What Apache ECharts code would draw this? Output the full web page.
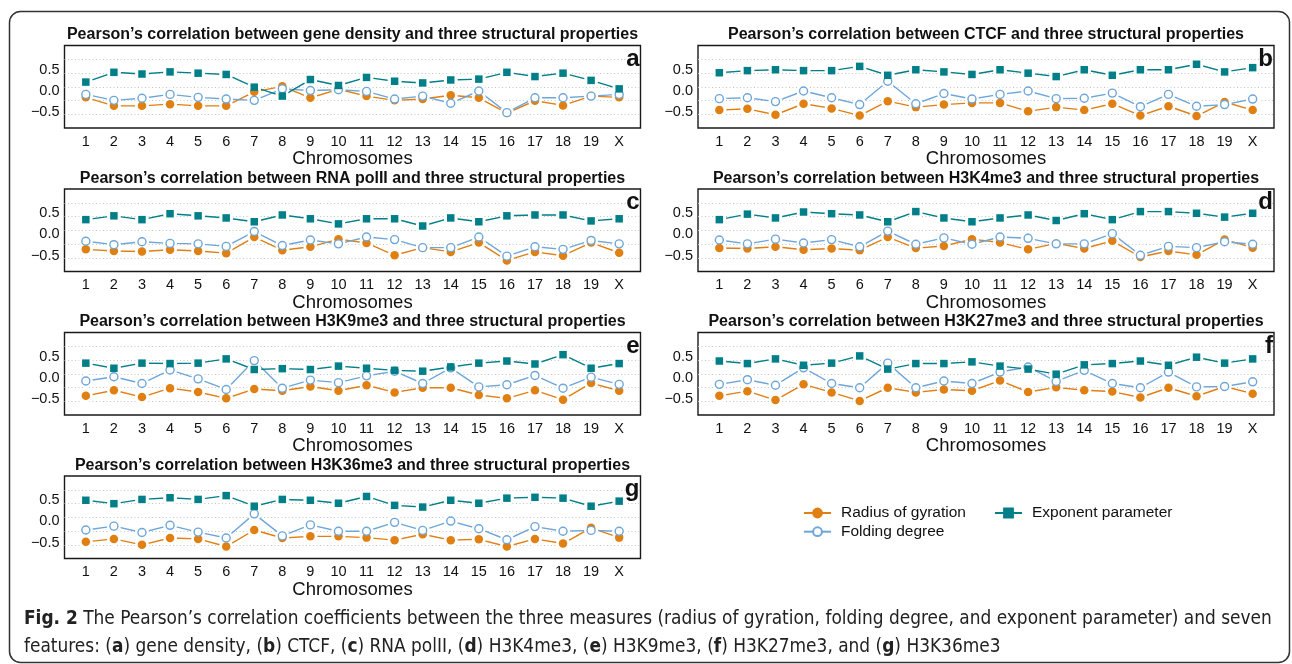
<!DOCTYPE html>
<html><head><meta charset="utf-8">
<script src="https://cdn.jsdelivr.net/npm/echarts@6/dist/echarts.min.js"></script>
<style>html,body{margin:0;padding:0;background:#fff}#c{width:1292px;height:664px}</style>
</head><body><div id="c"></div>
<script>
// ---------- data ----------
const chromosomes = ['1','2','3','4','5','6','7','8','9','10','11','12','13','14','15','16','17','18','19','X'];
const yTickValues = [-0.5, 0, 0.5];
const measureNames = ['Radius of gyration', 'Folding degree', 'Exponent parameter'];
const features = ['gene density', 'CTCF', 'RNA polII', 'H3K4me3', 'H3K9me3', 'H3K27me3', 'H3K36me3'];
const panelLetters = ['a', 'b', 'c', 'd', 'e', 'f', 'g'];

const radius_a   = [-0.15,-0.35,-0.35,-0.31,-0.35,-0.35,-0.02,0.11,-0.16,0.04,-0.12,-0.22,-0.19,-0.10,-0.16,-0.52,-0.23,-0.34,-0.12,-0.15];
const folding_a  = [-0.08,-0.22,-0.17,-0.08,-0.15,-0.19,-0.22,0.05,0.01,0.03,-0.01,-0.19,-0.12,-0.29,0.00,-0.51,-0.16,-0.16,-0.12,-0.08];
const exponent_a = [0.21,0.44,0.40,0.45,0.42,0.39,0.09,-0.12,0.27,0.13,0.32,0.23,0.19,0.26,0.28,0.44,0.34,0.42,0.25,0.05];

const radius_b   = [-0.45,-0.42,-0.56,-0.30,-0.41,-0.58,-0.24,-0.38,-0.32,-0.28,-0.28,-0.48,-0.38,-0.45,-0.30,-0.58,-0.36,-0.59,-0.26,-0.45];
const folding_b  = [-0.18,-0.16,-0.25,0.00,-0.16,-0.32,0.23,-0.30,-0.06,-0.19,-0.08,0.00,-0.18,-0.17,-0.05,-0.37,-0.08,-0.36,-0.32,-0.19];
const exponent_b = [0.43,0.48,0.50,0.48,0.48,0.58,0.37,0.50,0.45,0.39,0.50,0.42,0.34,0.50,0.37,0.50,0.50,0.63,0.45,0.55];

const radius_c   = [-0.35,-0.39,-0.40,-0.36,-0.39,-0.44,-0.06,-0.37,-0.29,-0.11,-0.20,-0.49,-0.31,-0.41,-0.19,-0.61,-0.41,-0.50,-0.19,-0.43];
const folding_c  = [-0.16,-0.24,-0.17,-0.21,-0.22,-0.28,0.07,-0.26,-0.13,-0.22,-0.06,-0.12,-0.31,-0.31,-0.06,-0.51,-0.29,-0.35,-0.14,-0.22];
const exponent_c = [0.35,0.44,0.35,0.49,0.44,0.39,0.30,0.46,0.37,0.25,0.37,0.37,0.20,0.39,0.30,0.44,0.46,0.46,0.32,0.37];

const radius_d   = [-0.32,-0.33,-0.29,-0.36,-0.33,-0.37,-0.06,-0.32,-0.27,-0.11,-0.19,-0.35,-0.21,-0.33,-0.15,-0.53,-0.39,-0.48,-0.12,-0.31];
const folding_d  = [-0.13,-0.22,-0.11,-0.20,-0.12,-0.29,0.08,-0.23,-0.08,-0.23,-0.06,-0.09,-0.22,-0.22,0.02,-0.49,-0.28,-0.31,-0.17,-0.23];
const exponent_d = [0.35,0.48,0.39,0.53,0.49,0.46,0.30,0.54,0.39,0.30,0.39,0.46,0.33,0.49,0.35,0.54,0.54,0.50,0.41,0.50];

const radius_e   = [-0.42,-0.29,-0.45,-0.24,-0.33,-0.48,-0.26,-0.30,-0.20,-0.30,-0.17,-0.34,-0.23,-0.23,-0.40,-0.48,-0.29,-0.51,-0.12,-0.30];
const folding_e  = [-0.07,0.03,-0.13,0.19,-0.02,-0.27,0.41,-0.24,-0.05,-0.11,0.05,0.16,-0.13,0.24,-0.21,-0.16,0.06,-0.24,0.02,-0.15];
const exponent_e = [0.35,0.23,0.35,0.34,0.35,0.45,0.20,0.22,0.20,0.28,0.23,0.18,0.16,0.26,0.35,0.40,0.33,0.55,0.23,0.34];

const radius_f   = [-0.42,-0.31,-0.52,-0.15,-0.34,-0.54,-0.23,-0.34,-0.27,-0.30,-0.06,-0.33,-0.22,-0.29,-0.32,-0.46,-0.23,-0.43,-0.20,-0.37];
const folding_f  = [-0.15,-0.04,-0.17,0.24,-0.13,-0.23,0.35,-0.23,-0.07,-0.13,0.14,0.26,-0.08,0.18,-0.13,-0.23,0.14,-0.21,-0.20,-0.09];
const exponent_f = [0.40,0.34,0.45,0.30,0.35,0.52,0.21,0.34,0.34,0.38,0.28,0.21,0.09,0.31,0.34,0.40,0.30,0.49,0.35,0.45];

const radius_g   = [-0.48,-0.41,-0.55,-0.39,-0.41,-0.59,-0.20,-0.39,-0.35,-0.35,-0.38,-0.44,-0.30,-0.44,-0.42,-0.59,-0.41,-0.52,-0.15,-0.38];
const folding_g  = [-0.20,-0.11,-0.26,-0.09,-0.25,-0.39,0.18,-0.34,-0.08,-0.23,-0.23,-0.02,-0.21,0.01,-0.17,-0.43,-0.12,-0.23,-0.21,-0.23];
const exponent_g = [0.50,0.42,0.52,0.56,0.52,0.61,0.36,0.52,0.50,0.43,0.59,0.38,0.34,0.50,0.43,0.55,0.57,0.55,0.36,0.48];

const panelData = [
  [radius_a, folding_a, exponent_a],
  [radius_b, folding_b, exponent_b],
  [radius_c, folding_c, exponent_c],
  [radius_d, folding_d, exponent_d],
  [radius_e, folding_e, exponent_e],
  [radius_f, folding_f, exponent_f],
  [radius_g, folding_g, exponent_g]
];

// ---------- styling / layout ----------
const FONT = "'Liberation Sans', Arial, Helvetica, sans-serif";
const CAPFONT = "'DejaVu Sans Condensed', 'Liberation Sans', sans-serif";
const COLORS = ['#E07F12', '#6FA6D8', '#007F88'];
const COL_X = [64.5, 698];
const ROW_Y = [45.5, 189, 332.5, 476];
const PW = 576, PH = 82.5;
const Y_MIN = -0.872, Y_MAX = 1.072, X_MIN = 0.24, X_MAX = 20.76;

const panels = panelLetters.map((l, i) => ({ left: COL_X[i % 2], top: ROW_Y[Math.floor(i / 2)] }));

const fmtY = v => v === 0 ? '0.0' : (v < 0 ? '\u22120.5' : '0.5');

const grid = panels.map(p => ({
  left: p.left, top: p.top, width: PW, height: PH,
  show: true, borderColor: '#1a1a1a', borderWidth: 1.4, backgroundColor: 'rgba(0,0,0,0)'
}));

const xAxis = panels.map((p, i) => ({
  type: 'value', gridIndex: i, min: X_MIN, max: X_MAX,
  name: 'Chromosomes', nameLocation: 'middle', nameGap: 19,
  nameTextStyle: { fontSize: 18.5, color: '#111', fontFamily: FONT },
  axisLine: { show: false }, axisTick: { show: false }, splitLine: { show: false },
  axisLabel: {
    customValues: chromosomes.map((c, k) => k + 1),
    formatter: v => chromosomes[Math.round(v) - 1],
    fontSize: 14.5, color: '#111', fontFamily: FONT, margin: 6
  }
}));

const yAxis = [];
panels.forEach((p, i) => {
  yAxis.push({
    type: 'value', gridIndex: i, min: Y_MIN, max: Y_MAX,
    axisLine: { show: false }, axisTick: { show: false }, splitLine: { show: false },
    axisLabel: { customValues: yTickValues, formatter: fmtY, fontSize: 14.5, color: '#111', fontFamily: FONT, margin: 5 }
  });
  // helper axis that splits the panel into 6 equal bands for the dotted grid
  yAxis.push({
    type: 'value', gridIndex: i, min: 0, max: 6, interval: 1, position: 'right',
    axisLine: { show: false }, axisTick: { show: false }, axisLabel: { show: false },
    splitLine: { show: true, showMinLine: false, showMaxLine: false,
      lineStyle: { color: '#c4c4c4', width: 1, type: [1, 2.5] } }
  });
});

const symbolOf = ['circle', 'emptyCircle', 'rect'];
const lineSeries = [], haloSeries = [], markSeries = [];
panelData.forEach((arrs, i) => {
  arrs.forEach((vals, m) => {
    const data = vals.map((v, k) => [k + 1, v]);
    lineSeries.push({
      type: 'line', name: measureNames[m], xAxisIndex: i, yAxisIndex: 2 * i, data,
      symbol: symbolOf[m], showSymbol: false, silent: true, animation: false,
      lineStyle: { color: COLORS[m], width: 1.4 },
      itemStyle: { color: COLORS[m], borderColor: COLORS[m], borderWidth: 1.3 }, z: 2
    });
    haloSeries.push({
      type: 'scatter', name: measureNames[m] + ' halo', xAxisIndex: i, yAxisIndex: 2 * i, data,
      symbol: 'circle', symbolSize: 14, silent: true, animation: false,
      itemStyle: { color: '#ffffff', opacity: 1 }, z: 3
    });
    let st;
    if (m === 0) st = { symbol: 'circle', symbolSize: 8.5, itemStyle: { color: COLORS[0], opacity: 1 } };
    else if (m === 1) st = { symbol: 'circle', symbolSize: 8, itemStyle: { color: '#fff', borderColor: COLORS[1], borderWidth: 1.4, opacity: 1 } };
    else st = { symbol: 'rect', symbolSize: 7.5, itemStyle: { color: COLORS[2], opacity: 1 } };
    markSeries.push(Object.assign({
      type: 'scatter', name: measureNames[m], xAxisIndex: i, yAxisIndex: 2 * i, data,
      silent: true, animation: false, z: 4 + m
    }, st));
  });
});

const graphic = [];
// outer rounded frame
graphic.push({ type: 'rect', shape: { x: 9.5, y: 11.5, width: 1280, height: 651, r: 11 },
  style: { fill: 'none', stroke: '#333', lineWidth: 1.5 }, z: 0, silent: true });
panels.forEach((p, i) => {
  graphic.push({ type: 'text', x: p.left + PW / 2, y: p.top - 10.5, z: 10, silent: true,
    style: { text: 'Pearson\u2019s correlation between ' + features[i] + ' and three structural properties',
      fontSize: 16, fontWeight: 'bold', fontFamily: FONT, fill: '#111', align: 'center', verticalAlign: 'middle' } });
  graphic.push({ type: 'text', x: p.left + PW - 1, y: p.top + 13.5, z: 10, silent: true,
    style: { text: panelLetters[i], fontSize: 24, fontWeight: 'bold', fontFamily: FONT, fill: '#111', align: 'right', verticalAlign: 'middle' } });
});
// caption
const CAPSIZE = 18.9;
const capRich = { b: { fontWeight: 'bold', fontSize: CAPSIZE, fontFamily: CAPFONT, fill: '#222' } };
graphic.push({ type: 'text', x: 24, y: 619.5, z: 10, silent: true,
  style: { text: '{b|Fig. 2} The Pearson\u2019s correlation coefficients between the three measures (radius of gyration, folding degree, and exponent parameter) and seven',
    rich: capRich, fontSize: CAPSIZE, fontFamily: CAPFONT, fill: '#222', verticalAlign: 'middle', align: 'left' } });
graphic.push({ type: 'text', x: 24, y: 647.5, z: 10, silent: true,
  style: { text: 'features: ({b|a}) gene density, ({b|b}) CTCF, ({b|c}) RNA polII, ({b|d}) H3K4me3, ({b|e}) H3K9me3, ({b|f}) H3K27me3, and ({b|g}) H3K36me3',
    rich: capRich, fontSize: CAPSIZE, fontFamily: CAPFONT, fill: '#222', verticalAlign: 'middle', align: 'left' } });

const legendBase = {
  orient: 'horizontal', itemWidth: 27, itemHeight: 11, selectedMode: false,
  textStyle: { fontSize: 15.5, color: '#111', fontFamily: FONT, padding: [0, 0, 0, 5] }
};
const legend = [
  Object.assign({ left: 798, top: 500, data: [measureNames[0]] }, legendBase),
  Object.assign({ left: 989, top: 500, data: [measureNames[2]] }, legendBase),
  Object.assign({ left: 798, top: 518.7, data: [measureNames[1]] }, legendBase)
];

const chart = echarts.init(document.getElementById('c'), null, { renderer: 'canvas' });
chart.setOption({
  animation: false,
  backgroundColor: '#fff',
  grid, xAxis, yAxis, legend, graphic,
  series: lineSeries.concat(haloSeries, markSeries)
});
</script></body></html>
